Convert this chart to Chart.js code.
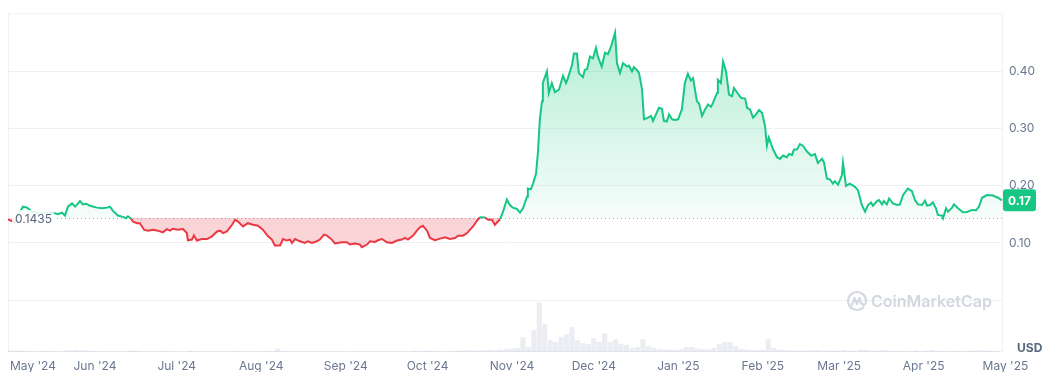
<!DOCTYPE html>
<html>
<head>
<meta charset="utf-8">
<script src="https://cdn.jsdelivr.net/npm/chart.js@4.4.1/dist/chart.umd.min.js"></script>
<style>
  html, body { margin: 0; padding: 0; background: #fff; }
  #wrap { position: relative; width: 1050px; height: 372px; }
</style>
</head>
<body>
<div id="wrap"><canvas id="chart" width="1050" height="372"></canvas></div>
<script>
// ── Data (day 0 = 1 May 2024) ──
const priceDays = [
  -0.9, 1.7, 3.1, 4.6, 6.1, 7.9, 10.8, 13.4, 15.2, 16.7,
  17.4, 18.9, 20.0, 21.1, 22.6, 23.7, 24.4, 25.5, 26.6, 27.7,
  29.2, 31.7, 33.6, 35.4, 36.5, 37.6, 39.4, 41.3, 42.4, 43.1,
  44.2, 44.9, 46.4, 47.5, 49.0, 50.4, 52.3, 54.1, 55.9, 57.4,
  58.5, 59.6, 61.4, 63.3, 64.7, 65.1, 66.6, 67.3, 68.4, 70.2,
  72.1, 73.9, 75.8, 76.9, 78.0, 79.4, 81.3, 82.4, 83.5, 85.3,
  87.1, 89.0, 90.8, 92.6, 94.5, 95.9, 97.0, 98.9, 100.0, 101.4,
  102.5, 103.3, 104.4, 106.2, 108.0, 109.1, 110.6, 112.4, 113.5, 115.0,
  116.1, 117.9, 119.0, 121.6, 123.4, 124.5, 126.4, 128.2, 128.9, 130.8,
  131.9, 133.7, 134.8, 136.3, 138.1, 139.9, 141.8, 143.6, 144.7, 145.8,
  147.7, 149.1, 150.2, 151.3, 152.8, 153.9, 155.7, 157.6, 159.4, 161.2,
  163.1, 164.2, 166.0, 167.5, 168.6, 169.7, 171.1, 172.2, 174.1, 175.2,
  176.6, 177.7, 178.8, 179.6, 180.7, 182.1, 183.2, 184.3, 185.8, 186.9,
  188.0, 189.5, 189.8, 190.9, 191.7, 192.8, 193.5, 194.2, 195.0, 195.3,
  196.8, 197.5, 198.6, 199.7, 201.2, 202.7, 203.8, 204.5, 206.0, 206.7,
  207.8, 208.5, 210.0, 210.7, 211.5, 212.6, 213.7, 214.8, 215.5, 216.9,
  218.1, 219.2, 220.3, 221.8, 222.5, 223.6, 224.7, 226.2, 226.9, 228.0,
  228.7, 229.8, 230.6, 231.7, 232.4, 233.9, 235.0, 235.7, 236.8, 237.9,
  239.0, 239.7, 240.8, 241.6, 242.7, 243.8, 244.9, 246.3, 247.4, 248.5,
  249.6, 250.4, 251.8, 252.6, 253.7, 254.8, 255.9, 257.0, 257.7, 259.2,
  259.5, 260.6, 261.4, 262.5, 263.6, 264.7, 265.4, 266.5, 268.0, 269.5,
  270.2, 271.3, 272.4, 273.5, 274.6, 275.7, 276.8, 277.5, 278.2, 279.7,
  281.2, 282.3, 283.4, 284.8, 285.6, 286.7, 287.4, 288.5, 289.6, 290.7,
  292.2, 293.7, 295.1, 296.2, 297.7, 298.4, 299.5, 300.6, 301.7, 302.4,
  303.6, 305.0, 305.4, 306.5, 307.9, 309.8, 310.9, 312.3, 313.5, 314.6,
  315.7, 316.4, 317.9, 318.6, 319.7, 320.4, 321.5, 322.3, 323.7, 325.2,
  326.3, 327.4, 329.2, 330.7, 331.8, 332.9, 334.4, 335.5, 336.2, 337.3,
  338.4, 339.5, 340.2, 341.7, 342.1, 343.2, 343.9, 345.4, 346.1, 347.6,
  349.4, 350.9, 352.7, 354.2, 355.3, 356.4, 358.2, 360.4, 362.3, 363.7
];
const prices = [
  0.1410, 0.1358, 0.1514, 0.1635, 0.1618, 0.1548, 0.1514, 0.1531, 0.1536, 0.1514,
  0.1502, 0.1531, 0.1479, 0.1635, 0.1692, 0.1635, 0.1670, 0.1734, 0.1675, 0.1687,
  0.1652, 0.1618, 0.1606, 0.1618, 0.1635, 0.1561, 0.1479, 0.1457, 0.1433, 0.1467,
  0.1427, 0.1375, 0.1346, 0.1346, 0.1232, 0.1215, 0.1232, 0.1215, 0.1185, 0.1242,
  0.1215, 0.1249, 0.1232, 0.1242, 0.1173, 0.1047, 0.1059, 0.1133, 0.1042, 0.1069,
  0.1069, 0.1116, 0.1202, 0.1215, 0.1173, 0.1202, 0.1318, 0.1405, 0.1375, 0.1289,
  0.1346, 0.1318, 0.1301, 0.1232, 0.1116, 0.1059, 0.0955, 0.0955, 0.1069, 0.1042,
  0.1059, 0.1000, 0.1069, 0.1029, 0.1000, 0.1029, 0.1000, 0.1029, 0.1059, 0.1145,
  0.1128, 0.1059, 0.0990, 0.1012, 0.1012, 0.0972, 0.0990, 0.0972, 0.0926, 0.0972,
  0.1029, 0.1017, 0.1047, 0.1069, 0.1012, 0.1000, 0.1042, 0.1059, 0.1087, 0.1059,
  0.1128, 0.1215, 0.1272, 0.1301, 0.1215, 0.1087, 0.1047, 0.1076, 0.1099, 0.1069,
  0.1087, 0.1128, 0.1128, 0.1173, 0.1232, 0.1289, 0.1388, 0.1450, 0.1445, 0.1405,
  0.1405, 0.1318, 0.1375, 0.1415, 0.1548, 0.1761, 0.1664, 0.1618, 0.1595, 0.1531,
  0.1606, 0.1808, 0.1952, 0.1938, 0.2038, 0.2211, 0.2587, 0.3163, 0.3481, 0.3798,
  0.4000, 0.3625, 0.3798, 0.3637, 0.3682, 0.3924, 0.3798, 0.3884, 0.4114, 0.4317,
  0.4317, 0.3971, 0.3901, 0.4028, 0.4040, 0.4260, 0.4230, 0.4415, 0.4260, 0.4087,
  0.4329, 0.4305, 0.4433, 0.4680, 0.4144, 0.3971, 0.4144, 0.4087, 0.4104, 0.4000,
  0.4074, 0.4028, 0.3971, 0.3682, 0.3163, 0.3192, 0.3222, 0.3135, 0.3249, 0.3365,
  0.3348, 0.3135, 0.3123, 0.3249, 0.3163, 0.3152, 0.3163, 0.3336, 0.3798, 0.3959,
  0.3844, 0.3884, 0.3481, 0.3439, 0.3222, 0.3336, 0.3422, 0.3382, 0.3452, 0.3625,
  0.3855, 0.3798, 0.4173, 0.4000, 0.3595, 0.3568, 0.3711, 0.3637, 0.3538, 0.3526,
  0.3365, 0.3336, 0.3192, 0.3249, 0.3325, 0.3279, 0.3048, 0.2702, 0.2846, 0.2644,
  0.2500, 0.2471, 0.2529, 0.2500, 0.2557, 0.2540, 0.2633, 0.2633, 0.2730, 0.2702,
  0.2599, 0.2529, 0.2557, 0.2401, 0.2471, 0.2414, 0.2125, 0.2114, 0.2038, 0.2080,
  0.2021, 0.2183, 0.2401, 0.1998, 0.2038, 0.1981, 0.1924, 0.1664, 0.1548, 0.1664,
  0.1709, 0.1652, 0.1734, 0.1751, 0.1675, 0.1734, 0.1675, 0.1779, 0.1692, 0.1664,
  0.1675, 0.1837, 0.1952, 0.1907, 0.1751, 0.1675, 0.1664, 0.1739, 0.1652, 0.1664,
  0.1709, 0.1606, 0.1491, 0.1479, 0.1433, 0.1606, 0.1548, 0.1618, 0.1675, 0.1606,
  0.1536, 0.1543, 0.1578, 0.1571, 0.1635, 0.1791, 0.1837, 0.1830, 0.1791, 0.1745
];
const baseline = 0.1435;

// volume, one bar every 2 days from day 0 (relative units, M)
const volume = [
  1.5, 1.2, 1.5, 1.0, 0.6, 0.6, 1.2, 1.3, 0.8, 0.6, 1.5, 1.8, 2.0, 1.6, 1.8, 1.2,
  0.8, 0.6, 0.6, 0.5, 0.5, 0.6, 1.2, 1.5, 0.8, 0.6, 0.5, 0.5, 0.9, 0.5, 0.5,
  0.5, 0.6, 1.2, 0.8, 0.5, 0.5, 0.5, 0.5, 0.5, 0.6, 0.9, 0.5, 0.5, 0.5, 0.6,
  0.8, 1.2, 1.0, 3.5, 1.0, 0.7, 0.5, 0.5, 0.5, 0.5, 0.5, 0.5, 0.5, 0.5, 0.5,
  0.5, 0.5, 0.5, 0.5, 0.5, 0.5, 0.5, 0.5, 0.5, 0.5, 0.6, 0.6, 0.8, 1.5, 1.2,
  1.0, 1.5, 0.8, 0.6, 0.6, 0.8, 1.2, 1.5, 1.8, 1.4, 1.6, 1.8, 2.2, 1.8, 2.5,
  3.0, 3.5, 4.0, 15, 5.0, 22, 50, 28, 12, 10, 15, 18, 25, 12, 9, 8,
  14, 10, 19, 10, 13, 8, 7, 4, 5, 13, 6, 4, 3, 2.5,
  2.5, 2.0, 3.0, 5.0, 5.0, 3.5, 3.0, 2.5, 4.0, 8.0, 10, 10, 6.0, 3.0, 2.5, 2.0,
  2.0, 2.0, 13, 4.0, 2.5, 2.0, 1.5, 1.5, 1.5, 1.5, 1.5, 2.0, 1.5, 1.5,
  1.5, 1.2, 2.0, 1.5, 1.0, 2.5, 2.0, 1.5, 1.2, 2.0, 1.5, 1.0, 1.2, 1.2, 1.0,
  1.5, 1.0, 1.5, 2.0, 1.5, 1.0, 1.0, 1.2, 1.0, 1.0, 1.2, 1.5, 1.8, 1.5, 1.2, 1.0
];

const monthDays = [0, 31, 61, 92, 123, 153, 184, 214, 245, 276, 304, 335, 365];
const monthLabels = ["May '24", "Jun '24", "Jul '24", "Aug '24", "Sep '24", "Oct '24", "Nov '24",
  "Dec '24", "Jan '25", "Feb '25", "Mar '25", "Apr '25", "May '25"];
const priceTicks = [0, 0.1, 0.2, 0.3, 0.4];

const GREEN = '#16c784';
const RED = '#ea3943';
const TXT = '#6b7790';
const FONT = 'Inter, "Noto Sans", sans-serif';

// green fill fades towards the baseline
function greenFill(chart) {
  const area = chart.chartArea, y = chart.scales.y;
  if (!area || !y) return 'rgba(22,199,132,0.15)';
  const top = y.getPixelForValue(0.47), base = y.getPixelForValue(baseline);
  const g = chart.ctx.createLinearGradient(0, top, 0, base);
  g.addColorStop(0, 'rgba(22,199,132,0.32)');
  g.addColorStop(1, 'rgba(22,199,132,0.04)');
  return g;
}

// ── Decorations: frame, baseline, badge, watermark, month labels ──
const decor = {
  id: 'decor',
  beforeDatasetsDraw(chart) {
    const { ctx, chartArea: a, scales } = chart;
    ctx.save();
    ctx.strokeStyle = '#eef0f4';
    ctx.lineWidth = 1;
    ctx.strokeRect(a.left + 0.5, a.top + 0.5, a.right - a.left - 1, a.bottom - a.top - 1);
    const by = Math.round(scales.y.getPixelForValue(baseline)) + 0.5;
    ctx.strokeStyle = '#9aa3b5';
    ctx.setLineDash([1, 3]);
    ctx.beginPath(); ctx.moveTo(a.left + 49, by); ctx.lineTo(a.right, by); ctx.stroke();
    ctx.restore();
  },
  afterDatasetsDraw(chart) {
    const { ctx, chartArea: a, scales } = chart;
    const by = scales.y.getPixelForValue(baseline);
    ctx.save();
    // baseline label
    ctx.fillStyle = 'rgba(255,255,255,0.85)';
    ctx.fillRect(a.left + 4, by - 8, 42, 16);
    ctx.font = '12px ' + FONT;
    ctx.fillStyle = '#58667e';
    ctx.textBaseline = 'middle';
    ctx.textAlign = 'left';
    ctx.fillText(baseline.toFixed(4), a.left + 7, by + 1);

    // current price badge
    const last = prices[prices.length - 1];
    const ly = scales.y.getPixelForValue(last);
    ctx.fillStyle = GREEN;
    ctx.beginPath();
    ctx.roundRect(a.right, ly - 11, 33, 22, 3);
    ctx.fill();
    ctx.fillStyle = '#fff';
    ctx.font = 'bold 12px ' + FONT;
    ctx.textAlign = 'center';
    ctx.fillText(last.toFixed(2), a.right + 16.5, ly + 1);

    // watermark
    const cx = a.right - 146, cy = a.bottom - 51;
    ctx.strokeStyle = '#d3d7df';
    ctx.lineWidth = 2.2;
    ctx.lineCap = 'round';
    ctx.lineJoin = 'round';
    ctx.beginPath(); ctx.arc(cx, cy, 9, 0.25 * Math.PI, 2.1 * Math.PI); ctx.stroke();
    ctx.beginPath();
    ctx.moveTo(cx - 5, cy + 4); ctx.lineTo(cx - 2.5, cy - 3); ctx.lineTo(cx, cy + 3);
    ctx.lineTo(cx + 2.5, cy - 3); ctx.lineTo(cx + 4, cy + 2); ctx.lineTo(cx + 7, cy + 4);
    ctx.stroke();
    ctx.fillStyle = '#d3d7df';
    ctx.font = '600 16px ' + FONT;
    ctx.textAlign = 'left';
    ctx.fillText('CoinMarketCap', cx + 14, cy + 1);

    // month labels
    ctx.fillStyle = TXT;
    ctx.font = '12px ' + FONT;
    ctx.textAlign = 'center';
    monthDays.forEach((d, i) => {
      let px = scales.x.getPixelForValue(d);
      const w = ctx.measureText(monthLabels[i]).width;
      if (px - w / 2 < a.left + 2) px = a.left + 2 + w / 2;
      ctx.fillText(monthLabels[i], px, a.bottom + 14);
    });

    // currency
    ctx.fillStyle = '#58667e';
    ctx.font = 'bold 12px ' + FONT;
    ctx.textAlign = 'left';
    ctx.fillText('USD', a.right + 14, a.bottom - 4);
    ctx.restore();
  }
};

new Chart(document.getElementById('chart'), {
  type: 'line',
  data: {
    datasets: [
      {
        type: 'line',
        data: priceDays.map((d, i) => ({ x: d, y: prices[i] })),
        yAxisID: 'y',
        borderColor: GREEN,
        borderWidth: 2,
        pointRadius: 0,
        tension: 0,
        segment: {
          borderColor: c => ((c.p0.parsed.y + c.p1.parsed.y) / 2 >= baseline ? GREEN : RED)
        },
        fill: c => ({ target: { value: baseline }, above: greenFill(c.chart), below: 'rgba(234,57,67,0.22)' }),
        order: 1
      },
      {
        type: 'bar',
        data: volume.map((v, i) => ({ x: i * 2, y: v })),
        yAxisID: 'yv',
        backgroundColor: 'rgba(175,184,202,0.25)',
        barPercentage: 0.92,
        categoryPercentage: 1,
        order: 2
      }
    ]
  },
  options: {
    responsive: false,
    animation: false,
    devicePixelRatio: 1,
    layout: { padding: { left: 8, top: 9, bottom: 20, right: 0 } },
    plugins: { legend: { display: false }, tooltip: { enabled: false } },
    scales: {
      x: { type: 'linear', min: -0.9, max: 364.1, offset: false, display: false },
      y: {
        position: 'right',
        min: -0.0908,
        max: 0.502,
        afterBuildTicks: s => { s.ticks = priceTicks.map(v => ({ value: v })); },
        afterFit: s => { s.width = 47; },
        grid: { color: '#eef0f4', drawTicks: false },
        border: { display: false },
        ticks: {
          padding: 6,
          color: TXT,
          font: { family: FONT, size: 12 },
          callback: v => (v === 0 ? '' : v.toFixed(2))
        }
      },
      yv: { display: false, min: 0, max: 343 }
    }
  },
  plugins: [decor]
});
</script>
</body>
</html>
